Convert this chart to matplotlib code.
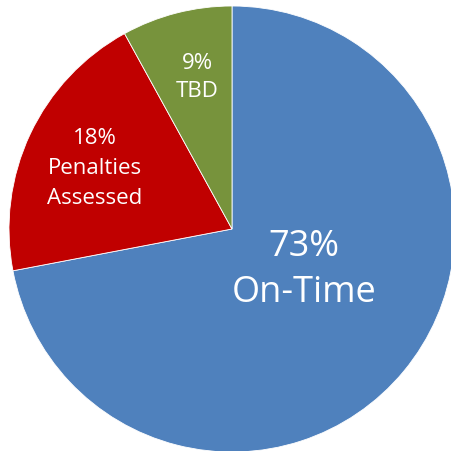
import matplotlib.pyplot as plt

# slice sizes as drawn, labels as printed on the chart
categories = ['On-Time', 'Penalties\nAssessed', 'TBD']
shares = [72.0, 20.0, 8.0]
pct_labels = ['73%', '18%', '9%']
colors = ['#4F81BD', '#C00000', '#77933C']

plt.rcParams['font.family'] = ['Open Sans', 'DejaVu Sans']

fig = plt.figure(figsize=(4.52, 4.51), dpi=100)
W, H = 452, 451
cx, cy, r = 232, 229, 223
ax = fig.add_axes([(cx - r) / W, (H - cy - r) / H, 2 * r / W, 2 * r / H])
ax.pie(shares, colors=colors, startangle=90, counterclock=False,
       wedgeprops=dict(linewidth=0.6, edgecolor='white'))
ax.set_xlim(-1, 1)
ax.set_ylim(-1, 1)
ax.set_aspect('equal')
ax.axis('off')

# label positions inside each slice
label_pos = [(0.323, -0.185), (-0.614, 0.27), (-0.157, 0.68)]
label_size = [26, 16, 16]
label_gap = [1.38, 1.55, 1.45]
for name, pct, (x, y), fs, ls in zip(categories, pct_labels, label_pos, label_size, label_gap):
    ax.text(x, y, pct + '\n' + name, ha='center', va='center', color='white',
            fontsize=fs, linespacing=ls)

fig.savefig('out.png', dpi=100)
